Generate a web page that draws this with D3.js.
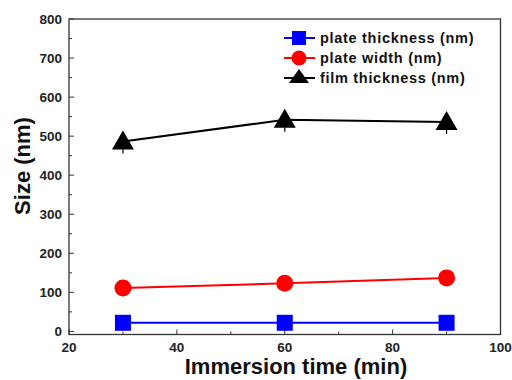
<!DOCTYPE html>
<html><head><meta charset="utf-8">
<script src="https://cdn.jsdelivr.net/npm/d3@7"></script>
<style>body{margin:0;background:#fff}svg{display:block}</style>
</head><body>
<script>
const times = [30, 60, 90];
const plateThickness = [22, 22, 22];
const plateWidth = [111, 123, 137];
const filmThickness = [486, 542, 536];
const seriesNames = ["plate thickness (nm)", "plate width (nm)", "film thickness (nm)"];
const xTicks = [20, 40, 60, 80, 100];
const yTicks = [0, 100, 200, 300, 400, 500, 600, 700, 800];

const W = 512, H = 380;
const svg = d3.select("body").append("svg").attr("width", W).attr("height", H);
const x = d3.scaleLinear().domain([20, 100]).range([69, 500.5]);
const y = d3.scaleLinear().domain([-8, 800]).range([334.5, 19]);

const font = "Arial, 'Liberation Sans', sans-serif";

// frame
svg.append("rect").attr("x", 69).attr("y", 19).attr("width", 431.5).attr("height", 315.5)
  .attr("fill", "none").attr("stroke", "#333").attr("stroke-width", 1.3);

// ticks (inward)
const g = svg.append("g");
yTicks.forEach(v => {
  g.append("line").attr("x1", 69).attr("x2", 74).attr("y1", y(v)).attr("y2", y(v)).attr("stroke", "#333");
  g.append("text").attr("x", 62).attr("y", y(v)).attr("dy", "0.36em").attr("text-anchor", "end")
    .attr("font-family", font).attr("font-weight", "bold").attr("font-size", 13.5).attr("fill", "#222").text(v);
});
d3.range(50, 800, 100).forEach(v => {
  g.append("line").attr("x1", 69).attr("x2", 72).attr("y1", y(v)).attr("y2", y(v)).attr("stroke", "#333");
});
xTicks.forEach(v => {
  g.append("line").attr("x1", x(v)).attr("x2", x(v)).attr("y1", 334.5).attr("y2", 329.5).attr("stroke", "#333");
  g.append("text").attr("x", x(v)).attr("y", 352).attr("text-anchor", "middle")
    .attr("font-family", font).attr("font-weight", "bold").attr("font-size", 13.5).attr("fill", "#222").text(v);
});
d3.range(30, 100, 20).forEach(v => {
  g.append("line").attr("x1", x(v)).attr("x2", x(v)).attr("y1", 334.5).attr("y2", 331.5).attr("stroke", "#333");
});

// axis titles
svg.append("text").attr("x", 296).attr("y", 374).attr("text-anchor", "middle")
  .attr("font-family", font).attr("font-weight", "bold").attr("font-size", 22).attr("fill", "#111")
  .text("Immersion time (min)");
svg.append("text").attr("transform", "translate(30,166) rotate(-90)").attr("text-anchor", "middle")
  .attr("font-family", font).attr("font-weight", "bold").attr("font-size", 22).attr("fill", "#111")
  .text("Size (nm)");

const series = [
  {vals: plateThickness, color: "#0000ff", shape: "square"},
  {vals: plateWidth, color: "#ff0000", shape: "circle"},
  {vals: filmThickness, color: "#000000", shape: "triangle"}
];
function marker(sel, shape, color, cx, cy) {
  if (shape === "square") {
    sel.append("rect").attr("x", cx - 8).attr("y", cy - 8).attr("width", 16).attr("height", 16).attr("fill", color);
  } else if (shape === "circle") {
    sel.append("circle").attr("cx", cx).attr("cy", cy).attr("r", 8.5).attr("fill", color);
  } else {
    sel.append("line").attr("x1", cx).attr("x2", cx).attr("y1", cy).attr("y2", cy + 12).attr("stroke", color).attr("stroke-width", 1.2);
    sel.append("path").attr("d", `M${cx},${cy - 11}L${cx + 11},${cy + 8}L${cx - 11},${cy + 8}Z`).attr("fill", color);
  }
}
const line = d3.line().x((d, i) => x(times[i])).y(d => y(d));
series.forEach(s => {
  svg.append("path").attr("d", line(s.vals)).attr("fill", "none").attr("stroke", s.color).attr("stroke-width", 2);
  s.vals.forEach((v, i) => marker(svg, s.shape, s.color, x(times[i]), y(v)));
});

// legend
const legY = [38, 58, 78];
series.forEach((s, i) => {
  svg.append("line").attr("x1", 284).attr("x2", 315).attr("y1", legY[i]).attr("y2", legY[i])
    .attr("stroke", s.color).attr("stroke-width", 2);
  if (s.shape === "square") svg.append("rect").attr("x", 292).attr("y", legY[i] - 7).attr("width", 14).attr("height", 14).attr("fill", s.color);
  else if (s.shape === "circle") svg.append("circle").attr("cx", 299).attr("cy", legY[i]).attr("r", 7.5).attr("fill", s.color);
  else svg.append("path").attr("d", `M299,${legY[i] - 9}L309,${legY[i] + 5}L289,${legY[i] + 5}Z`).attr("fill", s.color);
  svg.append("text").attr("x", 320).attr("y", legY[i]).attr("dy", "0.35em")
    .attr("font-family", font).attr("font-weight", "bold").attr("font-size", 14.5).attr("fill", "#111")
    .attr("letter-spacing", "0.7px").text(seriesNames[i]);
});
</script>
</body></html>
